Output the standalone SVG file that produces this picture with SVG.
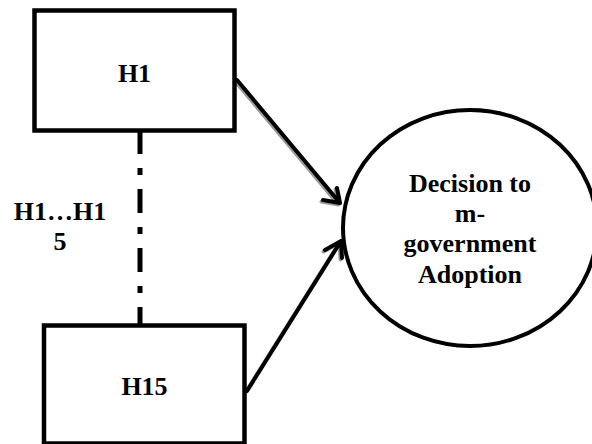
<svg xmlns="http://www.w3.org/2000/svg" width="592" height="444" viewBox="0 0 592 444">
<style>
.box{fill:#fff;stroke:#000;stroke-width:4.5}
.lbl{font-family:"Liberation Serif","Times New Roman",serif;font-weight:bold;font-size:26px;fill:#000;text-anchor:middle}
.conn{fill:none;stroke:#000;stroke-width:4;stroke-linecap:round;stroke-linejoin:round}
.shadow{fill:none;stroke:#9a9a9a;stroke-width:4;stroke-linecap:round;stroke-linejoin:round}
.dash{fill:none;stroke:#000;stroke-width:5;stroke-dasharray:24 14 7 14}
</style>
<rect width="592" height="444" fill="#fff"/>
<g id="connectors">
  <line class="dash" x1="140" y1="130" x2="140" y2="325"/>
  <g transform="translate(-1.5,1.5)">
    <path class="shadow" d="M237,80 L340,203 M337,188 L340,203 L323,200"/>
    <path class="shadow" d="M247,391 L341,241 M325,250 L341,241 L342,258"/>
  </g>
  <path class="conn" d="M237,80 L340,203 M337,188 L340,203 L323,200"/>
  <path class="conn" d="M247,391 L341,241 M325,250 L341,241 L342,258"/>
</g>
<g id="node-h1">
  <rect class="box" x="34.5" y="10.5" width="200" height="120"/>
  <text class="lbl" x="134.5" y="81.5">H1</text>
</g>
<g id="node-h15">
  <rect class="box" x="44" y="325.5" width="200.5" height="118"/>
  <text class="lbl" x="144.5" y="395">H15</text>
</g>
<g id="range-label">
  <text class="lbl" x="60" y="220">H1…H1</text>
  <text class="lbl" x="60" y="250">5</text>
</g>
<g id="node-decision">
  <ellipse cx="470" cy="228" rx="127" ry="118" fill="#fff" stroke="#000" stroke-width="4"/>
  <text class="lbl" x="470" y="192">Decision to</text>
  <text class="lbl" x="470" y="222">m-</text>
  <text class="lbl" x="470" y="252">government</text>
  <text class="lbl" x="470" y="283">Adoption</text>
</g>
</svg>
